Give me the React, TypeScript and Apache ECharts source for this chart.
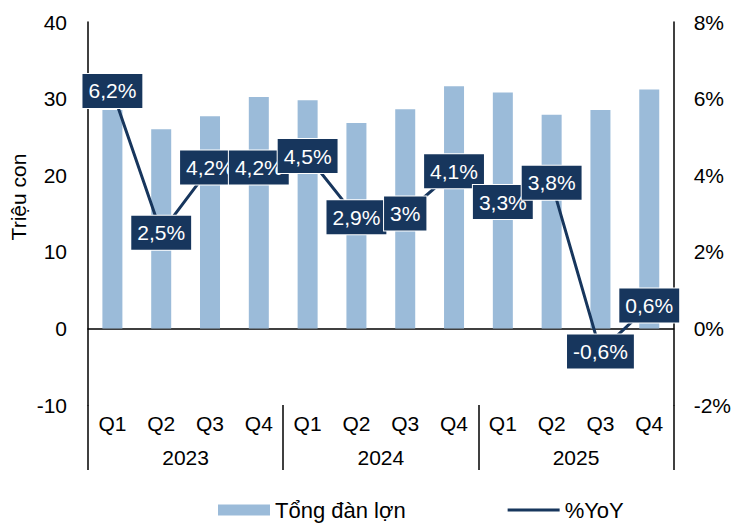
import React, { useEffect, useRef } from "react";
import * as echarts from "echarts";

const quarters = ["Q1", "Q2", "Q3", "Q4", "Q1", "Q2", "Q3", "Q4", "Q1", "Q2", "Q3", "Q4"];
const categories = ["2023 Q1", "2023 Q2", "2023 Q3", "2023 Q4", "2024 Q1", "2024 Q2", "2024 Q3", "2024 Q4", "2025 Q1", "2025 Q2", "2025 Q3", "2025 Q4"];
const years = ["2023", "2024", "2025"];
const herd = [28.5, 26.0, 27.7, 30.2, 29.8, 26.8, 28.6, 31.6, 30.8, 27.9, 28.5, 31.2];
const yoy = [6.2, 2.5, 4.2, 4.2, 4.5, 2.9, 3.0, 4.1, 3.3, 3.8, -0.6, 0.6];
const leftTicks = { min: -10, max: 40, interval: 10 };
const rightTicks = { min: -2, max: 8, interval: 2 };

const FONT = "Liberation Sans, Arial, sans-serif";
const FS = 21;
const BAR = "#9bbbd9";
const LINE = "#17365d";

export default function App() {
  const ref = useRef<HTMLDivElement>(null);
  useEffect(() => {
    const chart = echarts.init(ref.current!, null, { renderer: "svg" });
    const grid = { left: 88, right: 57, top: 22, bottom: 122 };
    chart.setOption({
      animation: false,
      textStyle: { fontFamily: FONT },
      grid,
      legend: {
        left: 218,
        top: 499,
        padding: 0,
        itemWidth: 52,
        itemHeight: 11,
        itemGap: 102,
        textStyle: { fontSize: 22, color: "#000", fontFamily: FONT },
        data: [
          { name: "Tổng đàn lợn", icon: "rect" },
          { name: "%YoY", icon: "path://M0,0 L52,0 L52,3 L0,3 Z" },
        ],
      },
      graphic: [
        {
          type: "text",
          x: 18,
          y: 197,
          rotation: Math.PI / 2,
          style: {
            text: "Triệu con",
            fontSize: FS,
            fontFamily: FONT,
            fill: "#000",
            align: "center",
            verticalAlign: "middle",
          },
        },
      ],
      xAxis: [
        {
          type: "category",
          data: categories,
          position: "bottom",
          axisLine: { onZero: true, lineStyle: { color: "#000", width: 1.5 } },
          axisTick: { show: false },
          axisLabel: { show: false },
          splitLine: { show: false },
        },
        {
          type: "category",
          data: categories,
          position: "bottom",
          axisLine: { show: false, onZero: false },
          axisTick: { show: false },
          axisLabel: {
            margin: 8,
            fontSize: FS,
            color: "#000",
            fontFamily: FONT,
            formatter: (_v: string, i: number) => quarters[i],
          },
        },
        {
          type: "category",
          data: years,
          position: "bottom",
          offset: 65,
          axisLine: { show: false, onZero: false },
          axisTick: { show: true, inside: true, length: 65, lineStyle: { color: "#000", width: 1.5 } },
          axisLabel: { inside: true, margin: 2, fontSize: FS, color: "#000", fontFamily: FONT },
        },
      ],
      yAxis: [
        {
          type: "value",
          ...leftTicks,
          axisLine: { show: true, lineStyle: { color: "#000", width: 1.5 } },
          axisTick: { show: false },
          splitLine: { show: false },
          axisLabel: { margin: 21, fontSize: FS, color: "#000", fontFamily: FONT },
        },
        {
          type: "value",
          ...rightTicks,
          position: "right",
          axisLine: { show: true, lineStyle: { color: "#000", width: 1.5 } },
          axisTick: { show: false },
          splitLine: { show: false },
          axisLabel: {
            margin: 20,
            fontSize: FS,
            color: "#000",
            fontFamily: FONT,
            formatter: (v: number) => `${v}%`,
          },
        },
      ],
      series: [
        {
          name: "Tổng đàn lợn",
          type: "bar",
          data: herd,
          barWidth: 20,
          itemStyle: { color: BAR },
          xAxisIndex: 0,
          yAxisIndex: 0,
        },
        {
          name: "%YoY",
          type: "line",
          data: yoy,
          xAxisIndex: 0,
          yAxisIndex: 1,
          z: 5,
          symbol: "circle",
          symbolSize: 2,
          itemStyle: { color: LINE },
          lineStyle: { color: LINE, width: 3 },
          label: {
            show: true,
            position: "inside",
            color: "#fff",
            fontSize: FS,
            fontFamily: FONT,
            backgroundColor: LINE,
            borderColor: "#fff",
            borderWidth: 1,
            padding: [7, 6, 6, 6],
            formatter: (p: any) => `${String(p.value).replace(".", ",")}%`,
          },
        },
      ],
    });
    return () => chart.dispose();
  }, []);
  return <div ref={ref} style={{ width: 734, height: 527, position: "absolute", left: 0, top: 0 }} />;
}
